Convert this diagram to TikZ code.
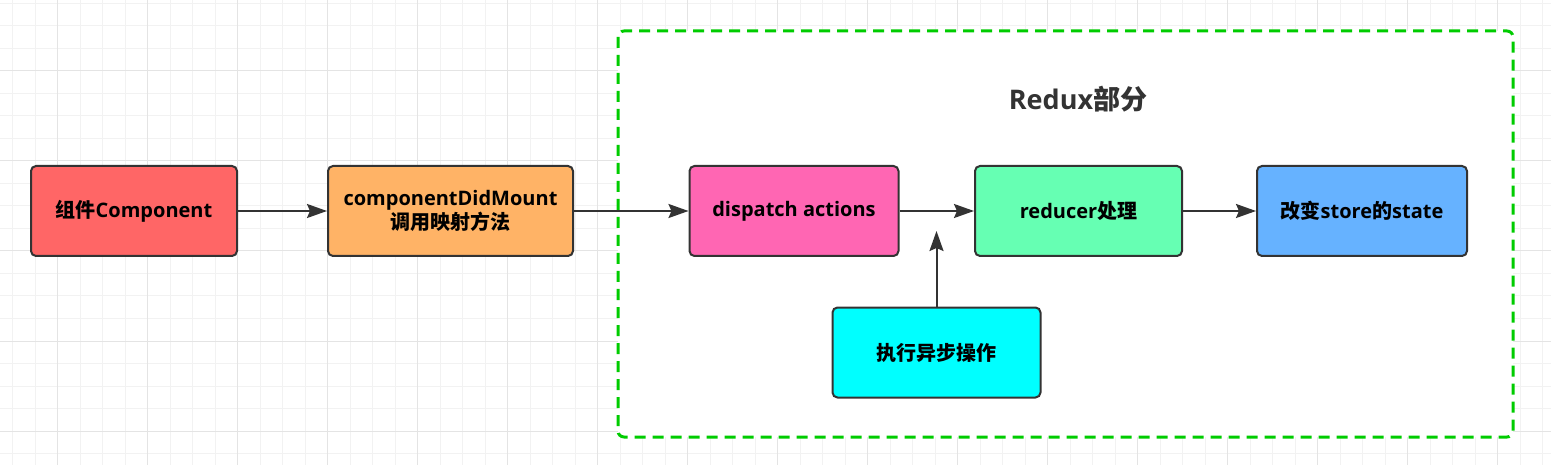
\documentclass[tikz,border=0pt]{standalone}
\usepackage{fontspec}
\setmainfont{Open Sans}
\newfontfamily\cjk{Noto Sans CJK SC}
\usetikzlibrary{arrows.meta}
\definecolor{gridminor}{HTML}{F2F2F2}
\definecolor{gridmajor}{HTML}{E4E4E4}
\definecolor{edge}{HTML}{333333}
\definecolor{cred}{HTML}{FF6666}
\definecolor{corange}{HTML}{FFB366}
\definecolor{cpink}{HTML}{FF66B3}
\definecolor{cmint}{HTML}{66FFB3}
\definecolor{cblue}{HTML}{66B2FF}
\definecolor{ccyan}{HTML}{00FFFF}
\definecolor{cgreen}{HTML}{00CC00}
\tikzset{
  box/.style={draw=edge, line width=2pt, rounded corners=5pt, minimum height=90pt,
    inner sep=0pt, align=center, font=\fontsize{20}{24}\selectfont\bfseries, text=black},
  flow/.style={draw=edge, line width=2pt, -{Stealth[length=20pt,width=14pt,inset=3pt]}},
}
\begin{document}
\begin{tikzpicture}[x=1pt,y=-1pt]
\useasboundingbox (0,0) rectangle (1551,465);
\fill[white] (0,0) rectangle (1551,465);
% grid
\foreach \i in {0,...,68} {
  \draw[gridminor, line width=1pt] ({12.7+22.5*\i},0) -- ({12.7+22.5*\i},465);
}
\foreach \j in {0,...,20} {
  \draw[gridminor, line width=1pt] (0,{3.5+22.5*\j}) -- (1551,{3.5+22.5*\j});
}
\foreach \i in {0,...,17} {
  \draw[gridmajor, line width=1pt] ({57.7+90*\i},0) -- ({57.7+90*\i},465);
}
\foreach \j in {0,...,5} {
  \draw[gridmajor, line width=1pt] (0,{71+90*\j}) -- (1551,{71+90*\j});
}
% redux group
\draw[cgreen, fill=white, line width=3pt, rounded corners=6pt, dash pattern=on 11pt off 7pt]
  (618,31) rectangle (1513,437);
\node[font=\fontsize{27}{32}\selectfont\bfseries, text=edge] (title) at (1078,99) {Redux{\cjk 部分}};
% nodes
\node[box, fill=cred, minimum width=206pt] (n1) at (134,211) {{\cjk 组件}Component};
\node[box, fill=corange, minimum width=245pt] (n2) at (450.5,211) {componentDidMount\\{\cjk 调用映射方法}};
\node[box, fill=cpink, minimum width=209pt] (n3) at (794,211) {dispatch actions};
\node[box, fill=cmint, minimum width=207pt] (n4) at (1078.5,211) {reducer{\cjk 处理}};
\node[box, fill=cblue, minimum width=210pt] (n5) at (1362,211) {{\cjk 改变}store{\cjk 的}state};
\node[box, fill=ccyan, minimum width=208pt] (n6) at (936.5,352.5) {{\cjk 执行异步操作}};
\coordinate (join) at (936.5,231);
% connectors
\draw[flow] (n1) -- (n2);
\draw[flow] (n2) -- (n3);
\draw[flow] (n3) -- (n4);
\draw[flow] (n4) -- (n5);
\draw[flow] (n6.north) -- (join);
\end{tikzpicture}
\end{document}
